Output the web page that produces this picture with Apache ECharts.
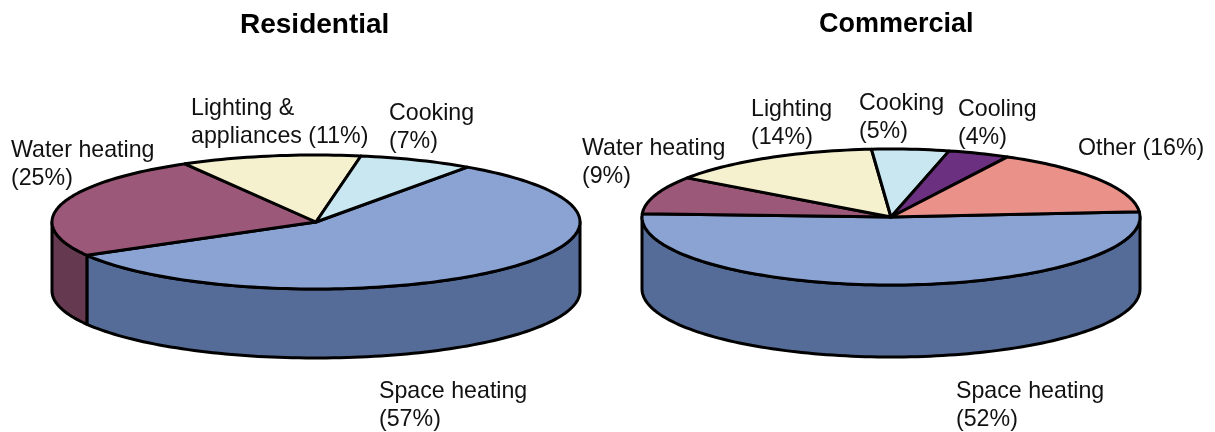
<!DOCTYPE html>
<html><head><meta charset="utf-8">
<style>html,body{margin:0;padding:0;background:#fff}#c{width:1215px;height:432px}</style>
<script src="https://cdn.jsdelivr.net/npm/echarts@6/dist/echarts.min.js"></script>
</head><body><div id="c"></div>
<script>
// Data
const residentialCategories = ['Space heating', 'Water heating', 'Lighting & appliances', 'Cooking'];
const residentialValues = [57, 25, 11, 7];
const commercialCategories = ['Space heating', 'Water heating', 'Lighting', 'Cooking', 'Cooling', 'Other'];
const commercialValues = [52, 9, 14, 5, 4, 16];
// Styles
const topColors = {'Space heating':'#8BA3D2','Water heating':'#9B5878','Lighting & appliances':'#F5F1CF','Lighting':'#F5F1CF','Cooking':'#C9E7F0','Cooling':'#6B307F','Other':'#EA928A'};
const sideColors = {'Space heating':'#566C98','Water heating':'#653A50','Lighting & appliances':'#A09D86','Lighting':'#A09D86','Cooking':'#83969C','Cooling':'#451F53','Other':'#985F5A'};
const FONT = '"Liberation Sans", Arial, sans-serif';
const INK = '#000';

function arc(g, a0, a1, dy) {
  const n = Math.max(2, Math.ceil(Math.abs(a1 - a0) / 1.5)), pts = [];
  for (let i = 0; i <= n; i++) {
    const t = (a0 + (a1 - a0) * i / n) * Math.PI / 180;
    pts.push([g.cx + g.rx * Math.cos(t), g.cy - g.ry * Math.sin(t) + dy]);
  }
  return pts;
}
function pieSeries(name, cats, vals, g) {
  const total = vals.reduce((a, b) => a + b, 0);
  const startOf = []; let acc = g.start;
  vals.forEach(v => { startOf.push(acc); acc -= v / total * 360; });
  return {
    type: 'custom', name, coordinateSystem: 'none', silent: true,
    data: vals.map((v, i) => ({ name: cats[i], value: v })),
    renderItem(params, api) {
      const i = params.dataIndex, a0 = startOf[i], a1 = a0 - vals[i] / total * 360;
      const lineStyle = (fill) => ({ fill, stroke: INK, lineWidth: g.lw, lineJoin: 'round' });
      const children = [];
      // front wall: the part of this slice that lies in the lower half of the ellipse
      for (const k of [0, 1]) {
        const lo = Math.max(a1, -180 - 360 * k), hi = Math.min(a0, -360 * k);
        if (hi > lo) {
          const front = arc(g, hi, lo, 0).concat(arc(g, lo, hi, g.depth));
          children.push({ type: 'polygon', z2: 1, shape: { points: front }, style: lineStyle(sideColors[cats[i]]) });
        }
      }
      const top = [[g.cx, g.cy]].concat(arc(g, a0, a1, 0));
      children.push({ type: 'polygon', z2: 2, shape: { points: top }, style: lineStyle(topColors[cats[i]]) });
      return { type: 'group', children };
    }
  };
}
const residentialGeom = { cx: 316, cy: 222, rx: 264, ry: 67, depth: 69, start: 55, lw: 3 };
const commercialGeom = { cx: 891, cy: 217, rx: 249, ry: 68, depth: 72, start: 4.5, lw: 3 };

const labelTexts = [
  ['Water heating\n(25%)', 11, 137], ['Lighting &\nappliances (11%)', 191, 95], ['Cooking\n(7%)', 389, 100],
  ['Space heating\n(57%)', 379, 378], ['Water heating\n(9%)', 582, 135], ['Lighting\n(14%)', 751, 96],
  ['Cooking\n(5%)', 859, 90], ['Cooling\n(4%)', 958, 96], ['Other (16%)', 1078, 135], ['Space heating\n(52%)', 956, 378]
];
const chart = echarts.init(document.getElementById('c'), null, { renderer: 'canvas' });
chart.setOption({
  animation: false,
  backgroundColor: '#fff',
  title: [
    { text: 'Residential', left: 235, top: 6, textStyle: { fontFamily: FONT, fontSize: 28, fontWeight: 'bold', color: INK } },
    { text: 'Commercial', left: 814, top: 6, textStyle: { fontFamily: FONT, fontSize: 27, fontWeight: 'bold', color: INK } }
  ],
  series: [
    pieSeries('Residential', residentialCategories, residentialValues, residentialGeom),
    pieSeries('Commercial', commercialCategories, commercialValues, commercialGeom)
  ],
  graphic: labelTexts.map(([text, x, y]) => ({
    type: 'text', left: x, top: y, z: 10,
    style: { text, fill: '#111', fontFamily: FONT, fontSize: 23.2, lineHeight: 28 }
  }))
});
</script></body></html>
